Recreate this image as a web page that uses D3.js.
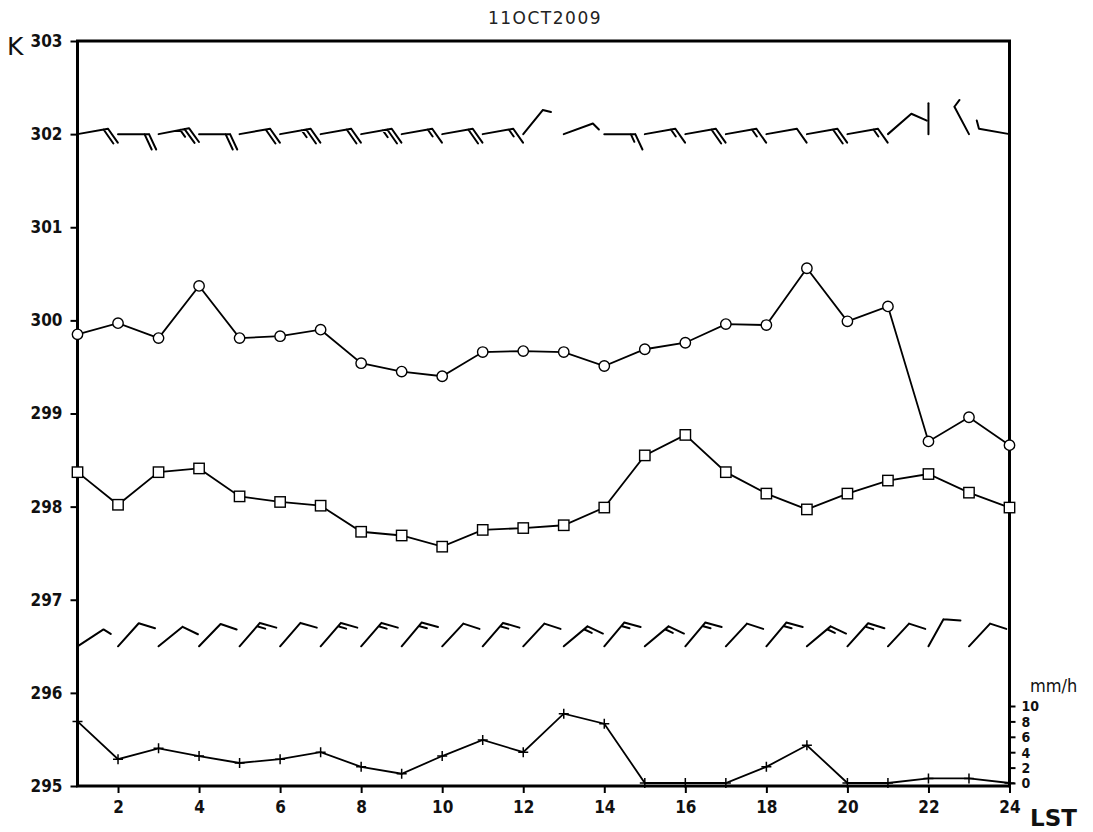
<!DOCTYPE html>
<html>
<head>
<meta charset="utf-8">
<script src="https://cdn.jsdelivr.net/npm/d3@7"></script>
<style>
  html, body { margin: 0; padding: 0; background: #fff; }
  svg { display: block; }
  .tick text { font-family: "Liberation Sans Narrow", "DejaVu Sans Condensed", "Liberation Sans", sans-serif; font-weight: bold; font-size: 17px; fill: #111; }
</style>
</head>
<body>
<svg id="chart" width="1093" height="832"></svg>
<script>
// Hourly station record, 11 Oct 2009 (local standard time)
const hours = [1,2,3,4,5,6,7,8,9,10,11,12,13,14,15,16,17,18,19,20,21,22,23,24];

// Temperature (K), open circles
const tempK = [299.85,299.97,299.81,300.37,299.81,299.83,299.90,299.54,299.45,299.40,299.66,299.67,
               299.66,299.51,299.69,299.76,299.96,299.95,300.56,299.99,300.15,298.70,298.96,298.66];
// Dew point (K), open squares
const dewK = [298.37,298.02,298.37,298.41,298.11,298.05,298.01,297.73,297.69,297.57,297.75,297.77,
              297.80,297.99,298.55,298.77,298.37,298.14,297.97,298.14,298.28,298.35,298.15,297.99];
// Precipitation rate (mm/h), plus markers, right axis
const rainMMh = [8.0,3.1,4.5,3.5,2.6,3.1,4.0,2.1,1.2,3.5,5.6,4.0,
                 9.0,7.7,0,0,0,2.1,4.9,0,0,0.6,0.6,0];

// Upper-level wind (barbs drawn along K = 302): direction (deg, from) and speed (kt)
const upperDir = [80,90,79,90,80,80,80,80,80,80,80,39,70,90,80,80,80,80,80,80,49,0,332,280];
const upperSpd = [20,20,25,20,20,25,20,25,15,20,15,5,5,15,15,20,15,10,20,15,10,2,5,5];
// Surface wind (barbs drawn along K = 296.5)
const lowerDir = [57,42,51,44,41,41,41,41,40,43,41,43,50,40,50,40,43,40,50,42,43,29,43,43];
const lowerSpd = [5,10,10,10,15,10,15,15,15,10,15,10,15,15,15,15,10,15,15,15,10,10,10,10];

// Axis ticks and labels
const kTicks = [295,296,297,298,299,300,301,302,303];
const hourTicks = [2,4,6,8,10,12,14,16,18,20,22,24];
const rainTicks = [0,2,4,6,8,10];
const titleText = "11OCT2009";
const barbRowsK = [302, 296.5];

const svg = d3.select("#chart");
const W = 1093, H = 832;
const pLeft = 77.5, pRight = 1009.5, pTop = 41, pBottom = 786;

const x = d3.scaleLinear().domain([1, 24]).range([pLeft, pRight]);
const y = d3.scaleLinear().domain([295, 303]).range([pBottom, pTop]);
const yRain = d3.scaleLinear().domain([0, 10]).range([pBottom - 3, pBottom - 80]);

svg.append("rect").attr("width", W).attr("height", H).attr("fill", "#fff");

svg.append("defs").append("clipPath").attr("id", "plotClip")
  .append("rect").attr("x", pLeft).attr("y", pTop).attr("width", pRight - pLeft).attr("height", pBottom - pTop);

// Axes
const axL = svg.append("g").attr("transform", `translate(${pLeft},0)`)
  .call(d3.axisLeft(y).tickValues(kTicks).tickSize(7).tickPadding(8).tickFormat(d3.format("d")));
const axB = svg.append("g").attr("transform", `translate(0,${pBottom})`)
  .call(d3.axisBottom(x).tickValues(hourTicks).tickSize(7).tickPadding(8).tickFormat(d3.format("d")));
const axR = svg.append("g").attr("transform", `translate(${pRight},0)`)
  .call(d3.axisRight(yRain).tickValues(rainTicks).tickSize(6).tickPadding(6).tickFormat(d3.format("d")));
[axL, axB, axR].forEach(g => {
  g.select(".domain").remove();
  g.selectAll(".tick line").attr("stroke", "#000").attr("stroke-width", 2);
});
axR.selectAll(".tick text").style("font-size", "14px").attr("dy", "0.35em");

// Frame
svg.append("rect")
  .attr("x", pLeft).attr("y", pTop).attr("width", pRight - pLeft).attr("height", pBottom - pTop)
  .attr("fill", "none").attr("stroke", "#000").attr("stroke-width", 3);

// Wind barbs
function barbPath(sx, sy, dirDeg, spd) {
  const L = 31, full = 17, half = 8.5, gap = 4.5, rot = 65 * Math.PI / 180;
  const a = dirDeg * Math.PI / 180;
  const ux = Math.sin(a), uy = -Math.cos(a);
  const bx = ux * Math.cos(rot) - uy * Math.sin(rot);
  const by = ux * Math.sin(rot) + uy * Math.cos(rot);
  const tx = sx + ux * L, ty = sy + uy * L;
  let p = `M${sx},${sy}L${tx},${ty}`;
  const nFull = Math.floor(spd / 10), nHalf = (spd % 10) >= 5 ? 1 : 0;
  let k = 0;
  for (let i = 0; i < nFull; i++, k++) {
    const px = tx - ux * gap * k, py = ty - uy * gap * k;
    p += `M${px},${py}L${px + bx * full},${py + by * full}`;
  }
  for (let i = 0; i < nHalf; i++, k++) {
    const px = tx - ux * gap * k, py = ty - uy * gap * k;
    p += `M${px},${py}L${px + bx * half},${py + by * half}`;
  }
  return p;
}
const barbG = svg.append("g").attr("clip-path", "url(#plotClip)");
[[upperDir, upperSpd], [lowerDir, lowerSpd]].forEach(([dirs, spds], r) => {
  barbG.selectAll(null).data(hours).enter().append("path")
    .attr("d", (h, i) => barbPath(x(h), y(barbRowsK[r]), dirs[i], spds[i]))
    .attr("fill", "none").attr("stroke", "#000").attr("stroke-width", 2).attr("stroke-linecap", "round");
});

// Series lines
const lineK = (vals, yy) => d3.line().x((d, i) => x(hours[i])).y(d => yy(d))(vals);
svg.append("path").attr("d", lineK(tempK, y)).attr("fill", "none").attr("stroke", "#000").attr("stroke-width", 1.8);
svg.append("path").attr("d", lineK(dewK, y)).attr("fill", "none").attr("stroke", "#000").attr("stroke-width", 1.8);
svg.append("path").attr("d", lineK(rainMMh, yRain)).attr("fill", "none").attr("stroke", "#000").attr("stroke-width", 1.8);

// Markers
svg.append("g").selectAll("circle").data(tempK).enter().append("circle")
  .attr("cx", (d, i) => x(hours[i])).attr("cy", d => y(d)).attr("r", 5.2)
  .attr("fill", "#fff").attr("stroke", "#000").attr("stroke-width", 1.4);
svg.append("g").selectAll("rect").data(dewK).enter().append("rect")
  .attr("x", (d, i) => x(hours[i]) - 5.2).attr("y", d => y(d) - 5.2).attr("width", 10.4).attr("height", 10.4)
  .attr("fill", "#fff").attr("stroke", "#000").attr("stroke-width", 1.4);
svg.append("g").selectAll("path").data(rainMMh).enter().append("path")
  .attr("d", (d, i) => { const cx = x(hours[i]), cy = yRain(d); return `M${cx - 5},${cy}H${cx + 5}M${cx},${cy - 5}V${cy + 5}`; })
  .attr("stroke", "#000").attr("stroke-width", 1.5);

// Labels
svg.append("text").attr("x", 545).attr("y", 24).attr("text-anchor", "middle")
  .style("font-family", "'DejaVu Sans', sans-serif").style("font-size", "17px").style("letter-spacing", "1.5px")
  .attr("fill", "#222").text(titleText);
svg.append("text").attr("x", 7).attr("y", 55)
  .style("font-family", "'DejaVu Sans', sans-serif").style("font-size", "25px").attr("fill", "#111").text("K");
svg.append("text").attr("x", 1030).attr("y", 692)
  .style("font-family", "'DejaVu Sans Condensed', 'DejaVu Sans', sans-serif").style("font-size", "18px").attr("fill", "#111").text("mm/h");
svg.append("text").attr("x", 1030).attr("y", 826)
  .style("font-family", "'DejaVu Sans', sans-serif").style("font-size", "23px").style("font-weight", "bold").attr("fill", "#111").text("LST");
</script>
</body>
</html>
